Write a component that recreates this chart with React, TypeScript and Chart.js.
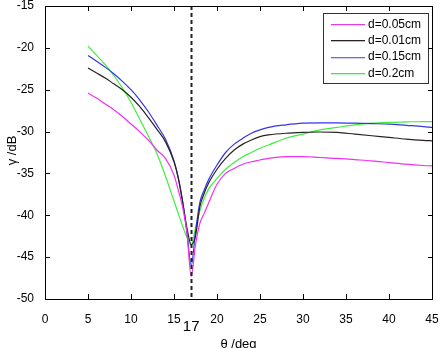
import React, { useEffect, useRef } from "react";
import { Chart, registerables } from "chart.js";

Chart.register(...registerables);

// Incidence angle θ (deg)
const thetaDeg = [5, 6, 7, 8, 9, 10, 11, 12, 13, 14, 15, 15.5, 16, 16.5, 17, 17.5, 18, 18.5, 19, 20, 21, 22, 23, 24, 25, 26, 28, 30, 32, 34, 36, 38, 40, 42, 44, 45];

// Reflection γ (dB) for each thickness d
const gamma005 = [-25.4, -26.0, -26.7, -27.4, -28.2, -29.1, -30.0, -31.0, -32.2, -33.2, -35.2, -37.0, -39.0, -42.0, -47.3, -43.5, -41.0, -39.8, -38.6, -36.3, -35.0, -34.4, -33.9, -33.6, -33.4, -33.2, -33.0, -33.0, -33.1, -33.2, -33.35, -33.5, -33.7, -33.9, -34.05, -34.1];
const gamma001 = [-22.4, -23.0, -23.6, -24.3, -25.0, -25.9, -27.0, -28.3, -29.7, -31.2, -33.6, -35.6, -38.4, -41.5, -43.5, -42.5, -39.0, -37.4, -36.2, -34.5, -33.2, -32.2, -31.5, -31.0, -30.6, -30.4, -30.2, -30.1, -30.05, -30.1, -30.3, -30.5, -30.7, -30.9, -31.05, -31.1];
const gamma015 = [-20.9, -21.6, -22.3, -23.1, -24.0, -25.0, -26.2, -27.6, -29.2, -30.9, -33.5, -35.5, -38.3, -42.0, -46.0, -42.0, -38.5, -37.0, -35.8, -34.0, -32.5, -31.5, -30.8, -30.2, -29.8, -29.5, -29.2, -29.0, -28.95, -28.95, -29.0, -29.05, -29.1, -29.25, -29.4, -29.5];
const gamma02 = [-19.8, -20.9, -22.0, -23.3, -24.8, -26.5, -28.5, -30.5, -32.6, -35.3, -38.3, -39.8, -41.3, -42.6, -43.6, -41.5, -39.5, -38.0, -36.9, -35.6, -34.5, -33.7, -33.0, -32.5, -32.0, -31.6, -30.8, -30.3, -29.8, -29.5, -29.2, -29.0, -28.9, -28.85, -28.8, -28.8];

const seriesLabels = ["d=0.05cm", "d=0.01cm", "d=0.15cm", "d=0.2cm"];
const seriesColors = ["#f030f0", "#2a2222", "#3535e5", "#40ee40"];
const legendColors = ["#e040e0", "#2a2222", "#6a6ae0", "#40e840"];

const xTickValues = [0, 5, 10, 15, 20, 25, 30, 35, 40, 45];
const yTickValues = [-50, -45, -40, -35, -30, -25, -20, -15];

const markerAngle = 17;
const xTitle = "θ /deg";
const yTitle = "γ /dB";

const FONT = "'Liberation Sans', Arial, sans-serif";

// Box around the plot with inward ticks on all four sides
const boxPlugin = {
  id: "box",
  afterDraw(chart: any) {
    const ctx = chart.ctx;
    const a = chart.chartArea;
    const xs = chart.scales.x;
    const ys = chart.scales.y;
    const L = Math.round(a.left);
    const R = Math.round(a.right);
    const T = Math.round(a.top);
    const B = Math.round(a.bottom);
    ctx.save();
    ctx.fillStyle = "#000";
    ctx.fillRect(L, T, R - L + 1, 1);
    ctx.fillRect(L, B, R - L + 1, 1);
    ctx.fillRect(L, T, 1, B - T + 1);
    ctx.fillRect(R, T, 1, B - T + 1);
    xTickValues.forEach((v) => {
      const px = Math.round(xs.getPixelForValue(v));
      ctx.fillRect(px, B - 5, 1, 5);
      ctx.fillRect(px, T, 1, 5);
    });
    yTickValues.forEach((v) => {
      const py = Math.round(ys.getPixelForValue(v));
      ctx.fillRect(L, py, 5, 1);
      ctx.fillRect(R - 4, py, 5, 1);
    });
    ctx.restore();
  },
};

// Dashed marker, titles and legend
const notesPlugin = {
  id: "notes",
  afterDatasetsDraw(chart: any) {
    const ctx = chart.ctx;
    const a = chart.chartArea;
    const mx = Math.round(chart.scales.x.getPixelForValue(markerAngle));
    ctx.save();
    ctx.fillStyle = "#222";
    for (let y = a.top; y < a.bottom; y += 7) {
      ctx.fillRect(mx - 0.5, y, 2, Math.min(4, a.bottom - y));
    }
    ctx.restore();
  },
  afterDraw(chart: any) {
    const ctx = chart.ctx;
    const a = chart.chartArea;
    const xs = chart.scales.x;
    ctx.save();
    ctx.fillStyle = "#000";
    ctx.textAlign = "center";
    ctx.textBaseline = "middle";
    ctx.font = `15px ${FONT}`;
    ctx.fillText(String(markerAngle), xs.getPixelForValue(markerAngle), 327);
    ctx.font = `13px ${FONT}`;
    ctx.fillText(xTitle, (a.left + a.right) / 2, 344);
    ctx.save();
    ctx.translate(12, (a.top + a.bottom) / 2 - 2);
    ctx.rotate(-Math.PI / 2);
    ctx.fillText(yTitle, 0, 0);
    ctx.restore();

    const lx = 323, ly = 13, lw = 105, lh = 70;
    ctx.fillStyle = "#fff";
    ctx.fillRect(lx, ly, lw, lh);
    ctx.fillStyle = "#333";
    ctx.fillRect(lx, ly, lw, 1);
    ctx.fillRect(lx, ly + lh, lw + 1, 1);
    ctx.fillRect(lx, ly, 1, lh);
    ctx.fillRect(lx + lw, ly, 1, lh);
    ctx.font = `12px ${FONT}`;
    ctx.textAlign = "left";
    seriesLabels.forEach((lab, i) => {
      const y = 24 + i * 16.3;
      ctx.fillStyle = legendColors[i];
      ctx.fillRect(331, Math.round(y), 34, 1.3);
      ctx.fillStyle = "#000";
      ctx.fillText(lab, 368, y + 0.5);
    });
    ctx.restore();
  },
};

export default function App() {
  const canvasRef = useRef<HTMLCanvasElement | null>(null);

  useEffect(() => {
    const canvas = canvasRef.current;
    if (!canvas) return;
    const allSeries = [gamma005, gamma001, gamma015, gamma02];
    const chart = new Chart(canvas, {
      type: "line",
      data: {
        datasets: allSeries.map((vals, i) => ({
          label: seriesLabels[i],
          data: thetaDeg.map((t, j) => ({ x: t, y: vals[j] })),
          borderColor: seriesColors[i],
          backgroundColor: seriesColors[i],
          borderWidth: 1.2,
          pointRadius: 0,
          cubicInterpolationMode: "monotone" as const,
          fill: false,
        })),
      },
      options: {
        responsive: false,
        animation: false,
        layout: { padding: { top: 6, right: 9, left: 0, bottom: 0 } },
        plugins: { legend: { display: false }, tooltip: { enabled: false } },
        scales: {
          x: {
            type: "linear",
            min: 0,
            max: 45,
            grid: { display: false },
            border: { display: true, color: "#000", width: 1 },
            ticks: {
              stepSize: 5,
              padding: 5,
              color: "#000",
              font: { family: FONT, size: 12 },
            },
            afterFit: (s: any) => {
              s.height = 49;
              s.paddingLeft = 0;
              s.paddingRight = 0;
            },
          },
          y: {
            type: "linear",
            min: -50,
            max: -15,
            grid: { display: false },
            border: { display: true, color: "#000", width: 1 },
            ticks: {
              stepSize: 5,
              padding: 3,
              color: "#000",
              font: { family: FONT, size: 12 },
            },
            afterFit: (s: any) => {
              s.width = 45;
              s.paddingTop = 0;
              s.paddingBottom = 0;
            },
          },
        },
      },
      plugins: [notesPlugin, boxPlugin],
    });
    return () => chart.destroy();
  }, []);

  return (
    <div style={{ position: "absolute", left: 0, top: 0, width: 441, height: 348, background: "#fff" }}>
      <canvas ref={canvasRef} width={441} height={348} />
    </div>
  );
}
